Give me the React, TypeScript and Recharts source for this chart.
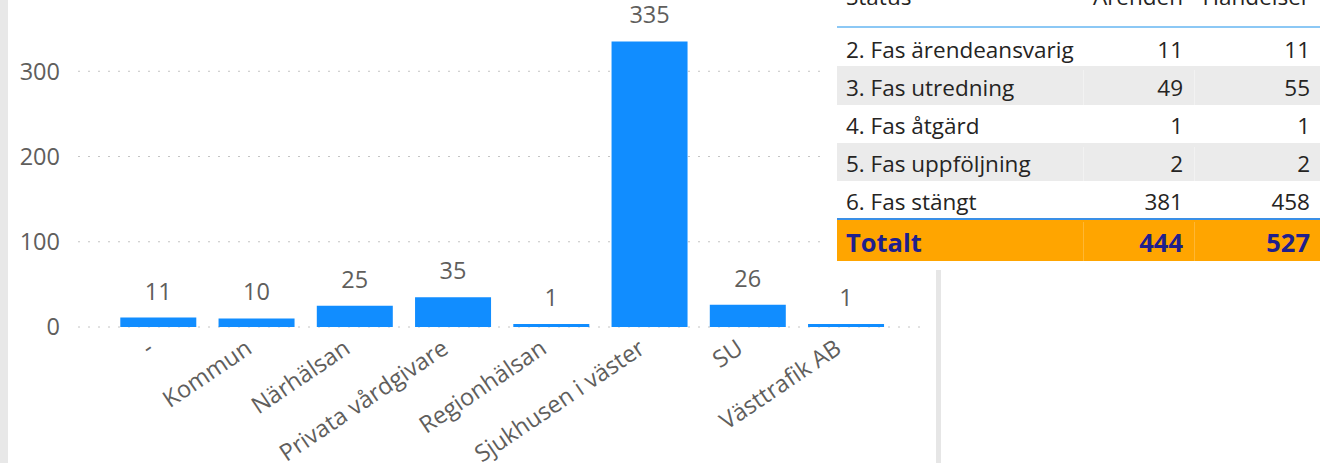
import React from "react";
import { BarChart, Bar, XAxis, YAxis, CartesianGrid, LabelList } from "recharts";

const categories = ["-", "Kommun", "Närhälsan", "Privata vårdgivare", "Regionhälsan", "Sjukhusen i väster", "SU", "Västtrafik AB"];
const counts = [11, 10, 25, 35, 1, 335, 26, 1];
const yTicks = [0, 100, 200, 300];

const tableHeaders = ["Status", "Ärenden", "Händelser"];
const statuses = ["2. Fas ärendeansvarig", "3. Fas utredning", "4. Fas åtgärd", "5. Fas uppföljning", "6. Fas stängt"];
const arenden = [11, 49, 1, 2, 381];
const handelser = [11, 55, 1, 2, 458];
const totalLabel = "Totalt";
const totalArenden = 444;
const totalHandelser = 527;

const data = categories.map((c, i) => ({ name: c, value: counts[i] }));

const FONT = "'Segoe UI', 'Open Sans', 'Noto Sans', sans-serif";
const TXT = "#605E5C";

const XTick = (props: any) => {
  const { x, y, payload } = props;
  const ax = x - 3;
  const ay = y;
  return (
    <text
      x={ax}
      y={ay}
      textAnchor="end"
      fill={TXT}
      fontSize={23.5}
      fontFamily={FONT}
      transform={`rotate(-34 ${ax} ${ay})`}
    >
      {payload.value}
    </text>
  );
};

const colW = [246, 111, 126];
const rowH = [38, 39, 38, 38, 37];

export default function App() {
  return (
    <div
      style={{
        position: "fixed",
        left: 0,
        top: 0,
        width: 1332,
        height: 463,
        overflow: "hidden",
        background: "#ffffff",
        fontFamily: FONT,
      }}
    >
      <div style={{ position: "absolute", left: 0, top: 0, width: 8, height: 463, background: "#e8e8e8" }} />
      <div style={{ position: "absolute", left: 936, top: 270, width: 5, height: 193, background: "#e6e6e6" }} />
      <div style={{ position: "absolute", left: 0, top: -40 }}>
        <BarChart
          width={940}
          height={510}
          data={data}
          margin={{ top: 26, right: 18, bottom: 0, left: 0 }}
          barCategoryGap="11.5%"
        >
          <CartesianGrid vertical={false} stroke="#c4c4c4" strokeDasharray="2 8" />
          <XAxis
            dataKey="name"
            interval={0}
            height={143}
            padding={{ left: 31, right: 27 }}
            axisLine={false}
            tickLine={false}
            tickSize={0}
            tickMargin={25}
            tick={<XTick />}
          />
          <YAxis
            width={78}
            domain={[0, 400]}
            ticks={yTicks}
            axisLine={false}
            tickLine={false}
            tickSize={0}
            tickMargin={18}
            tick={{ fill: TXT, fontSize: 23.5, fontFamily: FONT }}
          />
          <Bar dataKey="value" fill="#118DFF" minPointSize={3} isAnimationActive={false}>
            <LabelList
              dataKey="value"
              position="top"
              offset={18}
              fill={TXT}
              fontSize={23.5}
              fontFamily={FONT}
            />
          </Bar>
        </BarChart>
      </div>

      <div style={{ position: "absolute", left: 826, top: 0, width: 500, height: 263, background: "#ffffff" }} />
      <div style={{ position: "absolute", left: 837, top: -30, width: 483 }}>
        <div
          style={{
            display: "flex",
            height: 58,
            lineHeight: "54px",
            fontSize: 22.5,
            color: "#252423",
            borderBottom: "2px solid #8cc8f5",
            boxSizing: "border-box",
          }}
        >
          {tableHeaders.map((h, i) => (
            <div
              key={h}
              style={{
                width: colW[i],
                textAlign: i === 0 ? "left" : "right",
                paddingLeft: i === 0 ? 9 : 0,
                paddingRight: i === 1 ? 11 : i === 2 ? 10 : 0,
                boxSizing: "border-box",
                whiteSpace: "nowrap",
              }}
            >
              {h}
            </div>
          ))}
        </div>
        {statuses.map((s, r) => (
          <div
            key={s}
            style={{
              display: "flex",
              height: rowH[r],
              lineHeight: `${rowH[r] - 4}px`,
              fontSize: 22.5,
              color: "#252423",
              background: r % 2 === 1 ? "#ebebeb" : "#ffffff",
              paddingTop: r === 0 ? 5 : 4,
              boxSizing: "border-box",
            }}
          >
            {[s, String(arenden[r]), String(handelser[r])].map((v, i) => (
              <div
                key={i}
                style={{
                  width: colW[i],
                  textAlign: i === 0 ? "left" : "right",
                  paddingLeft: i === 0 ? 9 : 0,
                  paddingRight: i === 1 ? 11 : i === 2 ? 10 : 0,
                  boxSizing: "border-box",
                  whiteSpace: "nowrap",
                  borderLeft: i > 0 && r % 2 === 1 ? "1px solid #f2f2f2" : "none",
                }}
              >
                {v}
              </div>
            ))}
          </div>
        ))}
        <div
          style={{
            display: "flex",
            height: 43,
            lineHeight: "41px",
            fontSize: 25.5,
            fontWeight: 700,
            color: "#1f1f8c",
            background: "#FFA500",
            borderTop: "2px solid #3a8fe6",
            paddingTop: 2,
            boxSizing: "border-box",
          }}
        >
          {[totalLabel, String(totalArenden), String(totalHandelser)].map((v, i) => (
            <div
              key={i}
              style={{
                width: colW[i],
                textAlign: i === 0 ? "left" : "right",
                paddingLeft: i === 0 ? 9 : 0,
                paddingRight: i === 1 ? 11 : i === 2 ? 10 : 0,
                boxSizing: "border-box",
                whiteSpace: "nowrap",
                borderLeft: i > 0 ? "1px solid #ffb733" : "none",
              }}
            >
              {v}
            </div>
          ))}
        </div>
      </div>
    </div>
  );
}
